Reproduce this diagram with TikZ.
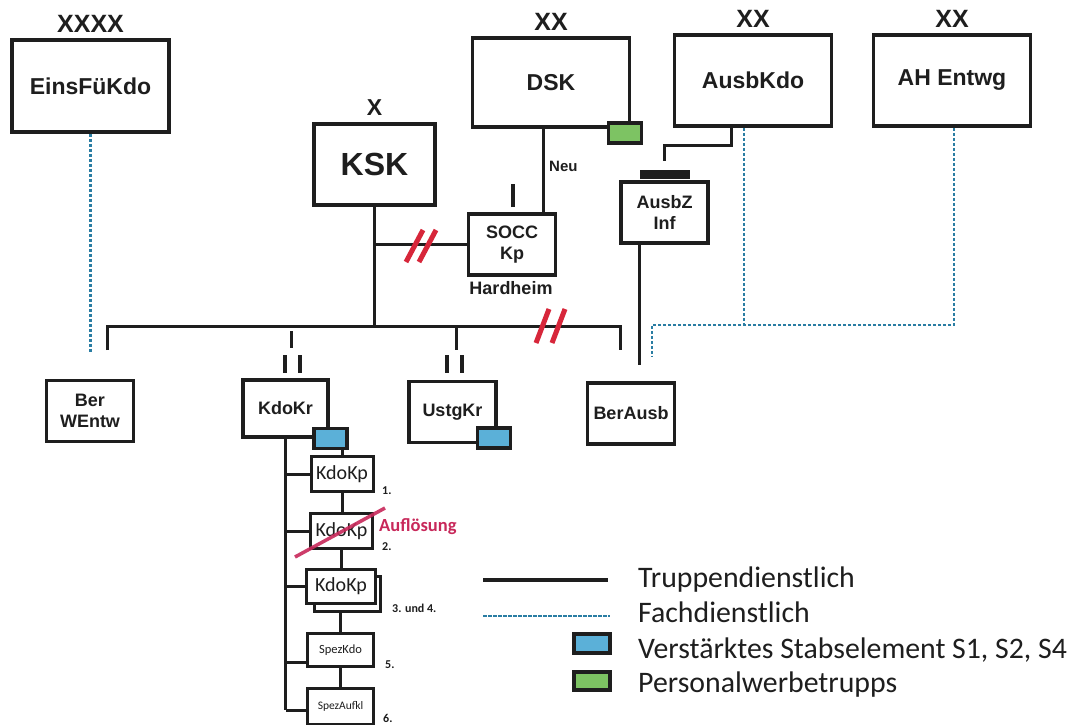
\documentclass[tikz,border=0pt]{standalone}
\usepackage{fontspec}
\setmainfont{Liberation Sans}
\newfontfamily\calib{Carlito}
\definecolor{ink}{HTML}{1E1E1E}
\definecolor{fachblue}{HTML}{2A7DA3}
\definecolor{stabblue}{HTML}{5BB0D8}
\definecolor{werbgreen}{HTML}{7DC363}
\definecolor{cutred}{HTML}{D7263A}
\definecolor{aufl}{HTML}{C8285A}
\begin{document}
\begin{tikzpicture}[x=1pt,y=-1pt,
 unit/.style={draw=ink, line width=3.8pt, fill=white, inner sep=0pt, align=center, font=\bfseries\fontsize{23}{26}\selectfont, text=ink},
 bigunit/.style={unit, minimum width=157pt, minimum height=91pt},
 midunit/.style={unit, minimum width=87pt, minimum height=61pt, font=\bfseries\fontsize{18}{21.5}\selectfont},
 comp/.style={draw=ink, line width=3pt, fill=white, inner sep=0pt, minimum width=62pt, minimum height=35pt, font=\calib\fontsize{20}{22}\selectfont, text=ink},
 stab/.style={draw=ink, line width=3.5pt, fill=stabblue, minimum width=33pt, minimum height=20pt, inner sep=0pt},
 werb/.style={stab, fill=werbgreen},
 echelon/.style={anchor=south, inner sep=0pt, font=\bfseries\fontsize{25}{25}\selectfont, text=ink},
 truppe/.style={draw=ink, line width=3pt},
 fach/.style={draw=fachblue, line width=2.8pt, dash pattern=on 3.5pt off 1.5pt},
 cut/.style={draw=cutred, line width=5pt},
 num/.style={font=\calib\bfseries\fontsize{12}{12}\selectfont, text=ink, anchor=west, inner sep=0pt},
 legtext/.style={font=\calib\fontsize{29.8}{30}\selectfont, text=ink, anchor=base west, inner sep=0pt}
]
\fill[white] (0,0) rectangle (1084,724);
\useasboundingbox (0,0) rectangle (1084,724);

% top level units
\node[bigunit, minimum height=92pt] (einsf) at (90.5,86) {EinsFüKdo};
\node[unit, minimum width=121pt, minimum height=81pt, font=\bfseries\fontsize{32}{34}\selectfont] (ksk) at (374.5,164.5) {KSK};
\node[bigunit, minimum height=89pt] (dsk) at (551,82.5) {DSK};
\node[bigunit] (ausbkdo) at (753,80.5) {AusbKdo};
\node[bigunit] (ahentwg) at (952,80.5) {AH Entwg};

\node[echelon] (einsfx) at ([yshift=5pt]einsf.north) {XXXX};
\node[echelon, font=\bfseries\fontsize{23}{23}\selectfont] (kskx) at ([yshift=6pt]ksk.north) {X};
\node[echelon] (dskx) at ([yshift=5pt]dsk.north) {XX};
\node[echelon] (ausbkdox) at ([yshift=5pt]ausbkdo.north) {XX};
\node[echelon] (ahentwgx) at ([yshift=5pt]ahentwg.north) {XX};

% second level
\node[midunit] (socc) at (512,244.5) {SOCC\\Kp};
\node[font=\bfseries\fontsize{18}{18}\selectfont, text=ink, inner sep=0pt] (hardheim) at (511,288) {Hardheim};
\node[midunit] (ausbz) at (664.5,212.5) {AusbZ\\Inf};
\fill[ink] ([xshift=-24.5pt,yshift=1pt]ausbz.north) rectangle ([xshift=25.5pt,yshift=10pt]ausbz.north);

\node[midunit] (berw) at (90,411) {Ber\\WEntw};
\node[midunit, minimum width=85pt, minimum height=57pt] (kdokr) at (285.5,408.5) {KdoKr};
\node[midunit] (ustgkr) at (452.5,412) {UstgKr};
\node[midunit] (berausb) at (631,413.5) {BerAusb};

\node[stab] (stab1) at (330.5,438.5) {};
\node[stab] (stab2) at (494,438) {};
\node[werb] (werb) at (625,133) {};

% KdoKr column
\node[comp] (kp1) at (342,474) {KdoKp};
\node[comp] (kp2) at (341.5,531) {KdoKp};
\node[comp, minimum width=66pt, minimum height=35pt] (kp3s) at (347.5,594) {};
\node[comp, minimum width=69pt, minimum height=34pt] (kp3) at (341,586.5) {KdoKp};
\node[comp, minimum width=66pt, minimum height=33pt, font=\calib\fontsize{12.5}{13}\selectfont] (spezkdo) at (340.5,650) {SpezKdo};
\node[comp, minimum width=66pt, minimum height=36pt, font=\calib\fontsize{11.5}{12}\selectfont] (spezaufkl) at (340.5,706) {SpezAufkl};

% Truppendienstlich connectors
\coordinate (barL) at (107,326);
\coordinate (barR) at (620,326);
\draw[truppe] (ksk.south) -- (ksk.south |- barL);
\draw[truppe] (ksk.south |- socc.west) -- (socc.west);
\draw[truppe] ([yshift=-24pt]barL) -- (barL) -- (barR) -- ([yshift=-24pt]barR);
\draw[truppe] (291,331) -- (291,348);
\draw[truppe] (456,326) -- (456,350);
\draw[truppe, line width=3.5pt] (285,355) -- (285,373) (300,355) -- (300,373);
\draw[truppe, line width=3.5pt] (447,355) -- (447,373) (462,355) -- (462,373);

\draw[truppe] ([xshift=-8pt]dsk.south) -- ([xshift=31pt]socc.north);
\node[font=\bfseries\fontsize{15}{15}\selectfont, text=ink, anchor=west, inner sep=0pt] (neu) at (549,166) {Neu};
\draw[truppe, line width=3.5pt] ([xshift=1pt,yshift=5pt]socc.north) -- ++(0,-23);

\draw[truppe] ([xshift=-22pt]ausbkdo.south) -- ++(0,18) -| ([yshift=19pt]ausbz.north);
\draw[truppe] ([xshift=-25.5pt]ausbz.south) -- ++(0,120);

% cuts
\draw[cut] (406,262) -- (423,230) (419,262) -- (436,230);
\draw[cut] (536,343) -- (549,309) (552,343) -- (565,309);

% Fachdienstlich
\coordinate (fachL) at (652,325);
\draw[fach] (einsf.south) -- ++(0,218);
\draw[fach] ([xshift=-9pt]ausbkdo.south) -- ([xshift=-9pt]ausbkdo.south |- fachL);
\draw[fach] ([xshift=2pt]ahentwg.south) |- (fachL) -- ++(0,31);

% KdoKr column connectors
\coordinate (b4) at ([yshift=-12pt]spezkdo.west);
\coordinate (b5) at ([yshift=-4pt]spezaufkl.west);
\draw[truppe] (kdokr.south) -- (kdokr.south |- b5);
\draw[truppe] (kdokr.south |- kp1.west) -- (kp1.west);
\draw[truppe] (kdokr.south |- kp2.west) -- (kp2.west);
\draw[truppe] (kdokr.south |- kp3.west) -- (kp3.west);
\draw[truppe] (kdokr.south |- b4) -- (b4);
\draw[truppe] (kdokr.south |- b5) -- (b5);
\draw[truppe] (kp1.north) -- (kp1.north |- stab1.south);
\draw[truppe] (kp1.south) -- (kp1.south |- kp2.north);
\draw[truppe] (kp2.south) -- (kp2.south |- kp3.north);
\draw[truppe] (spezkdo.north) -- (spezkdo.north |- kp3s.south);
\draw[truppe] (spezkdo.south) -- (spezkdo.south |- spezaufkl.north);

\node[num] (n1) at (382,491) {1.};
\node[num] (n2) at (382,547) {2.};
\node[num] (n34) at (392,608) {3. und 4.};
\node[num] (n5) at (385,665) {5.};
\node[num] (n6) at (383,718) {6.};

\draw[draw=aufl, line width=3.5pt, opacity=0.9] (295,557) -- (385,508);
\node[font=\calib\bfseries\fontsize{18.5}{19}\selectfont, text=aufl, anchor=west, inner sep=0pt] (aufl) at (379,527) {Auflösung};

% legend
\coordinate (l1a) at (483,580); \coordinate (l1b) at (608,580);
\coordinate (l2a) at (483,616); \coordinate (l2b) at (610,616);
\draw[truppe, line width=3.5pt] (l1a) -- (l1b);
\draw[fach] (l2a) -- (l2b);
\node[stab, line width=4pt, minimum width=36pt, minimum height=19pt] (legstab) at (592,643.5) {};
\node[werb, line width=4pt, minimum width=36pt, minimum height=18pt] (legwerb) at (592,681) {};
\node[legtext] (t1) at (638,587) {Truppendienstlich};
\node[legtext] (t2) at (638,622) {Fachdienstlich};
\node[legtext] (t3) at (638,658) {Verstärktes Stabselement S1, S2, S4};
\node[legtext] (t4) at (638,692) {Personalwerbetrupps};
\end{tikzpicture}
\end{document}
